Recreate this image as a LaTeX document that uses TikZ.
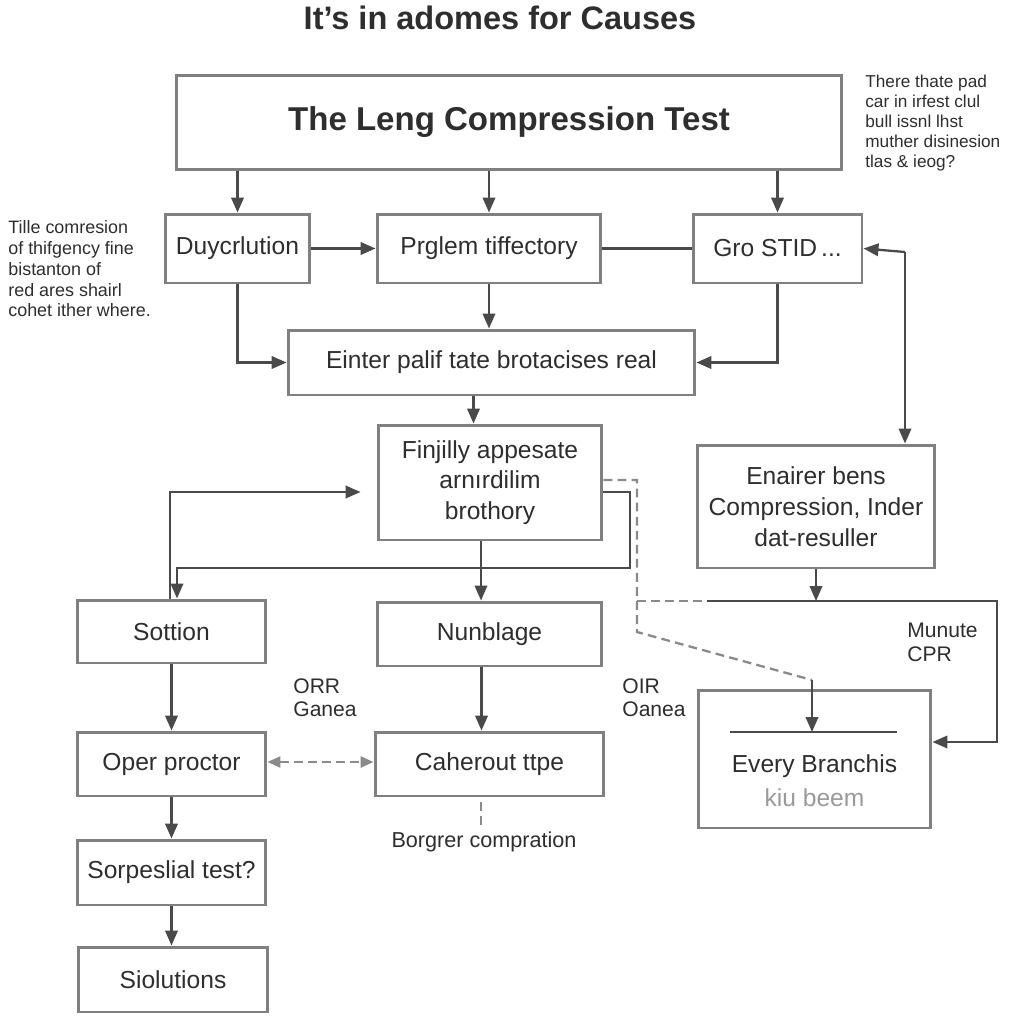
\documentclass[tikz,border=0pt]{standalone}
\usepackage{fontspec}
\setmainfont{Liberation Sans}
\usetikzlibrary{calc,arrows.meta}

\definecolor{boxgray}{HTML}{808080}
\definecolor{inkgray}{HTML}{2E2E2E}
\definecolor{linegray}{HTML}{4A4A4A}
\definecolor{dashgray}{HTML}{8A8A8A}
\definecolor{softgray}{HTML}{9A9A9A}

\begin{document}
\begin{tikzpicture}[x=0.02cm, y=-0.02cm,
    box/.style={draw=boxgray, line width=1.7pt, fill=white, text=inkgray, align=center,
      font=\fontsize{14}{17.5}\selectfont, inner sep=2pt},
    arr/.style={draw=linegray, line width=1.3pt, -{Triangle[length=0.3cm,width=0.25cm]}},
    conn/.style={draw=linegray, line width=1.3pt},
    dashline/.style={draw=dashgray, line width=1.3pt, dash pattern=on 5pt off 3pt},
    note/.style={text=inkgray, align=left, inner sep=0pt}]

  \useasboundingbox[fill=white] (0,0) rectangle (1024,1024);

  \node[text=inkgray, font=\fontsize{18.5}{22}\selectfont\bfseries] (title) at (500,18) {It’s in adomes for Causes};

  \node[box, minimum width=13.32cm, minimum height=1.9cm, font=\fontsize{18.8}{22}\selectfont\bfseries] (top) at (509,122.5) {The Leng Compression Test};

  \node[box, minimum width=2.9cm, minimum height=1.38cm] (duy) at (237.5,248.5) {Duycrlution};
  \node[box, minimum width=4.48cm, minimum height=1.38cm] (prg) at (489,248.5) {Prglem tiffectory};
  \node[box, minimum width=3.38cm, minimum height=1.38cm] (gro) at (777.5,248.5) {Gro STID\,...};

  \node[box, minimum width=8.14cm, minimum height=1.3cm] (ein) at (491.5,362.5) {Einter palif tate brotacises real};
  \node[box, minimum width=4.48cm, minimum height=2.3cm] (fin) at (490,482.5) {Finjilly appesate\\arnırdilim\\brothory};
  \node[box, minimum width=4.76cm, minimum height=2.46cm] (ena) at (816,506.5) {Enairer bens\\Compression, Inder\\dat-resuller};

  \node[box, minimum width=3.78cm, minimum height=1.26cm] (sot) at (171.5,631.5) {Sottion};
  \node[box, minimum width=4.5cm, minimum height=1.28cm] (nun) at (489.5,634) {Nunblage};
  \node[box, minimum width=3.78cm, minimum height=1.28cm] (ope) at (171.5,764) {Oper proctor};
  \node[box, minimum width=4.58cm, minimum height=1.28cm] (cah) at (489.5,764) {Caherout ttpe};
  \node[box, minimum width=4.66cm, minimum height=2.76cm] (eve) at (814.5,759) {};
  \node[text=inkgray, font=\fontsize{14}{17}\selectfont] (evet) at (814.5,766) {Every Branchis};
  \node[text=softgray, font=\fontsize{14}{17}\selectfont] (evek) at (814.5,798) {kiu beem};
  \node[box, minimum width=3.78cm, minimum height=1.3cm] (sor) at (171.5,872.5) {Sorpeslial test?};
  \node[box, minimum width=3.8cm, minimum height=1.3cm] (sio) at (173,979.5) {Siolutions};

  \node[note, anchor=north west, font=\fontsize{9.8}{11.3}\selectfont] (rnote) at (865,75) {There thate pad\\car in irfest clul\\bull issnl lhst\\muther disinesion\\tlas \& ieog?};
  \node[note, anchor=north west, font=\fontsize{10.2}{11.9}\selectfont] (lnote) at (8,220) {Tille comresion\\of thifgency fine\\bistanton of\\red ares shairl\\cohet ither where.};
  \node[note, anchor=north west, font=\fontsize{12}{13.5}\selectfont] (orr) at (293,678) {ORR\\Ganea};
  \node[note, anchor=north west, font=\fontsize{12}{13.5}\selectfont] (oir) at (622,678) {OIR\\Oanea};
  \node[note, anchor=north west, font=\fontsize{12}{13.2}\selectfont] (mun) at (907,623) {Munute\\CPR};
  \node[text=inkgray, font=\fontsize{12.3}{14}\selectfont] (bor) at (484,842) {Borgrer compration};

  \coordinate (rt) at (905,252);
  \coordinate (dj) at (637,632);
  \coordinate (dk) at (812,680);
  \coordinate (ri) at (997,601);
  \coordinate (bl) at (730,732);
  \coordinate (br) at (897,732);

  \draw[arr] (top.south -| duy.north) -- (duy.north);
  \draw[arr] (top.south -| prg.north) -- (prg.north);
  \draw[arr] (top.south -| gro.north) -- (gro.north);
  \draw[arr] (duy.east) -- (prg.west);
  \draw[conn] (prg.east) -- (gro.west);
  \draw[arr] (rt) -- (gro.east);
  \draw[arr] (rt) -- (rt |- ena.north);
  \draw[arr] (duy.south) |- (ein.west);
  \draw[arr] (gro.south) |- (ein.east);
  \draw[arr] (prg.south) -- (prg.south |- ein.north);
  \draw[arr] ([xshift=-0.36cm]ein.south) -- ([xshift=-0.36cm]ein.south |- fin.north);

  \draw[arr, shorten >=0.32cm] ([xshift=-0.03cm]sot.north) |- ([yshift=-0.19cm]fin.west);
  \draw[arr] ([yshift=-0.19cm]fin.east) -| (630,568) -| ([xshift=0.11cm]sot.north);
  \draw[arr] ([xshift=-0.18cm]fin.south) -- ([xshift=-0.18cm]fin.south |- nun.north);
  \draw[arr] ([xshift=-0.16cm]nun.south) -- ([xshift=-0.16cm]nun.south |- cah.north);

  \draw[dashline] ([yshift=0.05cm]fin.east) -| (dj) -- (dk);
  \draw[dashline] (637,601) -- (707,601);
  \draw[arr] (dk) -- (dk |- bl);
  \draw[conn] (bl) -- (br);
  \draw[arr] (ena.south) -- (ena.south |- ri);
  \draw[arr] (707,601) -- (ri) -- (ri |- 0,742) -- (eve.east |- 0,742);

  \draw[arr] (sot.south) -- (ope.north);
  \draw[dashline, {Triangle[length=0.26cm,width=0.22cm]}-{Triangle[length=0.26cm,width=0.22cm]}] ([yshift=0.04cm]ope.east) -- ([yshift=0.04cm]cah.west);
  \draw[dashline] (481,802) -- (481,826);
  \draw[arr] (ope.south) -- (ope.south |- sor.north);
  \draw[arr] (sor.south) -- (sor.south |- sio.north);

\end{tikzpicture}
\end{document}
